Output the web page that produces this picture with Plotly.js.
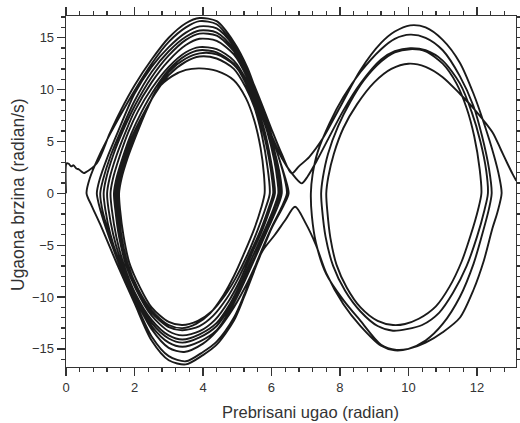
<!DOCTYPE html>
<html>
<head>
<meta charset="utf-8">
<script src="https://cdn.plot.ly/plotly-3.0.1.min.js"></script>
<style>html,body{margin:0;padding:0;background:#fff;}#chart{width:520px;height:423px;}</style>
</head>
<body>
<div id="chart"></div>
<script>
// Axis labels
const xTitle = "Prebrisani ugao (radian)";
const yTitle = "Ugaona brzina (radian/s)";

// Trajectory segments (angle in radian, speed in radian/s)
const startX = [0, 0.02, 0.08, 0.15, 0.22, 0.3, 0.38, 0.45, 0.52, 0.56];
const startY = [0, 2.9, 2.85, 2.6, 2.7, 2.4, 2.3, 2.1, 1.95, 2.0];

const lTop1X = [0.56, 0.9, 1.28, 1.6, 2.0, 2.5, 3.0, 3.5, 3.9, 4.4, 4.9, 5.3, 5.6, 5.9, 6.2, 6.4, 6.5];
const lTop1Y = [2.0, 2.9, 5.8, 8.0, 10.4, 12.9, 15.0, 16.4, 16.9, 16.6, 14.6, 12.1, 9.4, 6.6, 3.6, 1.5, 0];
const lBot1X = [6.5, 6.35, 6.0, 5.6, 5.2, 4.9, 4.4, 4.0, 3.5, 3.0, 2.5, 2.0, 1.5, 1.0, 0.75, 0.6];
const lBot1Y = [0, -1.2, -3.4, -6.6, -10.0, -12.3, -14.6, -15.6, -16.5, -16.1, -14.2, -10.6, -6.9, -3.0, -1.2, 0];
const lTop2X = [0.6, 0.7, 0.95, 1.3, 1.6, 2.0, 2.5, 3.0, 3.5, 3.9, 4.4, 4.9, 5.3, 5.6, 5.9, 6.2, 6.38, 6.45];
const lTop2Y = [0, 1.5, 3.5, 5.8, 7.6, 9.9, 12.5, 14.6, 16.0, 16.6, 16.3, 14.3, 11.9, 9.3, 6.6, 3.6, 1.5, 0];
const lBot2X = [6.45, 6.3, 6.0, 5.6, 5.2, 4.9, 4.4, 4.0, 3.5, 3.0, 2.5, 2.0, 1.5, 1.15, 0.97, 0.9];
const lBot2Y = [0, -1.3, -3.3, -6.4, -9.8, -12.0, -14.3, -15.3, -16.2, -15.7, -13.8, -10.3, -6.4, -3.2, -1.2, 0];
const lTop3X = [0.9, 0.98, 1.2, 1.5, 2.0, 2.5, 3.0, 3.5, 3.9, 4.4, 4.9, 5.3, 5.67, 6.0, 6.3, 6.59];
const lTop3Y = [0, 1.3, 3.4, 5.8, 9.6, 12.2, 14.1, 15.5, 16.1, 15.9, 14.2, 11.9, 9.0, 6.2, 3.8, 1.92];

const rTop1X = [6.59, 6.8, 7.1, 7.5, 8.0, 8.6, 9.2, 9.6, 10.05, 10.5, 11.0, 11.5, 11.9, 12.2, 12.5, 12.65, 12.72];
const rTop1Y = [1.92, 2.6, 3.5, 5.3, 8.3, 11.9, 14.5, 15.6, 16.2, 16.0, 14.8, 12.6, 9.6, 6.8, 3.6, 1.6, 0];
const rBot1X = [12.72, 12.6, 12.45, 12.2, 11.9, 11.5, 11.0, 10.5, 10.0, 9.65, 9.2, 8.6, 8.1, 7.6, 7.3, 7.18, 7.15];
const rBot1Y = [0, -1.8, -3.4, -6.5, -9.3, -12.0, -13.4, -14.4, -15.0, -15.1, -14.6, -12.3, -10.3, -7.8, -4.8, -2.2, 0];
const rTop2X = [7.15, 7.2, 7.35, 7.7, 8.1, 8.6, 9.2, 9.6, 10.05, 10.5, 11.0, 11.5, 11.9, 12.15, 12.35, 12.43];
const rTop2Y = [0, 1.8, 4.0, 6.8, 9.3, 11.7, 13.9, 14.9, 15.3, 15.0, 13.8, 11.3, 8.4, 5.5, 2.4, 0];
const rBot2X = [12.43, 12.35, 12.15, 11.9, 11.5, 11.0, 10.5, 10.0, 9.6, 9.2, 8.6, 8.1, 7.6, 7.3, 7.0, 6.69];
const rBot2Y = [0, -1.5, -4.0, -6.8, -10.0, -12.6, -14.2, -15.0, -15.15, -14.7, -12.8, -10.7, -7.7, -5.0, -2.9, -1.3];

const lBot3X = [6.69, 6.4, 6.1, 5.75, 5.3, 4.9, 4.4, 4.0, 3.45, 3.0, 2.5, 2.0, 1.5, 1.2, 1.05, 1.0];
const lBot3Y = [-1.3, -2.6, -4.0, -5.5, -8.6, -11.0, -13.3, -14.5, -15.3, -14.9, -13.1, -10.0, -6.2, -3.3, -1.4, 0];
const lTop4X = [1.0, 1.08, 1.3, 1.6, 2.0, 2.5, 3.0, 3.5, 3.9, 4.4, 4.9, 5.3, 5.6, 5.9, 6.15, 6.27, 6.3];
const lTop4Y = [0, 1.3, 3.6, 6.0, 8.9, 11.7, 13.7, 15.1, 15.7, 15.5, 13.9, 11.5, 9.0, 6.3, 3.3, 1.3, 0];
const lBot4X = [6.3, 6.18, 5.9, 5.5, 5.1, 4.8, 4.4, 3.9, 3.4, 3.0, 2.5, 2.0, 1.6, 1.3, 1.15, 1.1];
const lBot4Y = [0, -1.3, -3.4, -6.4, -9.3, -11.2, -13.2, -14.3, -14.8, -14.4, -12.8, -10.0, -7.0, -4.0, -1.6, 0];
const lTop5X = [1.1, 1.17, 1.38, 1.7, 2.0, 2.5, 3.0, 3.5, 3.9, 4.4, 4.9, 5.3, 5.6, 5.9, 6.12, 6.22, 6.25];
const lTop5Y = [0, 1.4, 3.7, 6.3, 8.4, 11.2, 13.3, 14.8, 15.4, 15.2, 13.7, 11.3, 8.8, 6.0, 3.2, 1.3, 0];
const lBot5X = [6.25, 6.12, 5.85, 5.5, 5.1, 4.8, 4.4, 3.9, 3.4, 3.0, 2.5, 2.0, 1.65, 1.38, 1.24, 1.2];
const lBot5Y = [0, -1.3, -3.5, -6.2, -9.0, -10.9, -12.8, -13.9, -14.4, -14.0, -12.5, -9.7, -7.0, -4.0, -1.5, 0];
const lTop6X = [1.2, 1.27, 1.47, 1.75, 2.0, 2.5, 3.0, 3.5, 3.9, 4.4, 4.9, 5.3, 5.6, 5.88, 6.08, 6.17, 6.2];
const lTop6Y = [0, 1.4, 3.6, 6.0, 7.9, 10.7, 12.8, 14.3, 14.9, 14.7, 13.4, 11.1, 8.6, 5.9, 3.2, 1.3, 0];
const lBot6X = [6.2, 6.08, 5.82, 5.45, 5.1, 4.8, 4.4, 3.9, 3.4, 3.0, 2.5, 2.0, 1.7, 1.47, 1.34, 1.3];
const lBot6Y = [0, -1.3, -3.4, -6.1, -8.7, -10.6, -12.5, -13.6, -14.1, -13.7, -12.2, -9.5, -7.0, -4.2, -1.6, 0];
const lTop7X = [1.3, 1.37, 1.56, 1.82, 2.1, 2.5, 3.0, 3.5, 3.9, 4.4, 4.9, 5.3, 5.55, 5.8, 5.98, 6.07, 6.1];
const lTop7Y = [0, 1.4, 3.5, 5.9, 7.9, 10.1, 12.2, 13.6, 14.1, 13.9, 12.8, 10.7, 8.6, 6.0, 3.2, 1.3, 0];
const lBot7X = [6.1, 5.98, 5.75, 5.4, 5.05, 4.75, 4.35, 3.9, 3.4, 3.0, 2.5, 2.05, 1.75, 1.55, 1.44, 1.4];
const lBot7Y = [0, -1.3, -3.4, -6.0, -8.6, -10.4, -12.2, -13.3, -13.7, -13.3, -11.8, -9.3, -6.9, -4.2, -1.6, 0];
const lTop8X = [1.4, 1.47, 1.65, 1.9, 2.2, 2.6, 3.0, 3.5, 3.9, 4.4, 4.9, 5.25, 5.5, 5.75, 5.93, 6.02, 6.05];
const lTop8Y = [0, 1.4, 3.4, 5.7, 7.8, 10.1, 11.9, 13.3, 13.8, 13.6, 12.5, 10.6, 8.6, 6.0, 3.3, 1.3, 0];
const lBot8X = [6.05, 5.93, 5.7, 5.35, 5.0, 4.7, 4.3, 3.9, 3.4, 3.0, 2.5, 2.1, 1.8, 1.6, 1.49, 1.45];
const lBot8Y = [0, -1.3, -3.4, -6.0, -8.4, -10.1, -11.8, -12.8, -13.2, -12.9, -11.5, -9.3, -7.0, -4.3, -1.7, 0];
const lTop9X = [1.45, 1.52, 1.7, 1.95, 2.25, 2.6, 3.0, 3.5, 3.9, 4.4, 4.9, 5.25, 5.5, 5.72, 5.88, 5.95];
const lTop9Y = [0, 1.4, 3.4, 5.6, 7.6, 9.6, 11.4, 12.7, 13.2, 13.0, 12.0, 10.2, 8.3, 5.6, 2.6, 0];
const lBot9X = [5.95, 5.84, 5.6, 5.3, 4.95, 4.65, 4.25, 3.85, 3.4, 3.0, 2.5, 2.15, 1.85, 1.68, 1.58, 1.55];
const lBot9Y = [0, -1.3, -3.5, -5.9, -8.2, -9.8, -11.4, -12.3, -12.7, -12.4, -11.0, -9.0, -6.7, -4.1, -1.6, 0];
const lTop10X = [1.55, 1.62, 1.8, 2.05, 2.35, 2.65, 3.1, 3.5, 3.9, 4.4, 4.9, 5.25, 5.5, 5.68, 5.78, 5.8];
const lTop10Y = [0, 1.4, 3.4, 5.6, 8.0, 10.0, 11.3, 11.9, 12.05, 11.8, 10.9, 9.2, 7.0, 4.4, 1.8, 0];
const lBot10X = [5.8, 5.7, 5.5, 5.2, 4.9, 4.6, 4.2, 3.8, 3.4, 3.0, 2.5, 2.1, 1.8, 1.62, 1.53, 1.5];
const lBot10Y = [0, -1.4, -3.4, -5.8, -8.0, -9.8, -11.6, -12.6, -13.0, -12.7, -11.3, -9.2, -6.8, -4.1, -1.6, 0];
const lTop11X = [1.5, 1.57, 1.75, 2.0, 2.3, 2.6, 3.0, 3.5, 3.9, 4.4, 4.9, 5.3, 5.67, 6.0, 6.3, 6.6, 6.88];
const lTop11Y = [0, 1.4, 3.4, 5.6, 7.7, 9.7, 11.7, 13.0, 13.5, 13.4, 12.4, 10.6, 8.2, 5.6, 3.4, 1.9, 0.96];

const rTop3X = [6.88, 7.05, 7.3, 7.65, 8.1, 8.6, 9.2, 9.6, 10.05, 10.5, 11.0, 11.5, 11.85, 12.1, 12.27, 12.32];
const rTop3Y = [0.96, 1.6, 3.0, 5.2, 8.0, 10.6, 12.9, 13.7, 14.0, 13.8, 12.8, 10.6, 7.8, 5.0, 2.2, 0];
const rBot3X = [12.32, 12.22, 12.0, 11.7, 11.3, 10.9, 10.4, 9.95, 9.55, 9.1, 8.6, 8.15, 7.8, 7.58, 7.48, 7.45];
const rBot3Y = [0, -1.6, -4.2, -7.0, -9.6, -11.5, -12.7, -13.1, -13.25, -12.8, -11.4, -9.4, -7.0, -4.2, -1.6, 0];
const rTop4X = [7.45, 7.5, 7.65, 7.95, 8.3, 8.7, 9.2, 9.6, 10.05, 10.5, 11.0, 11.4, 11.7, 11.92, 12.08, 12.13];
const rTop4Y = [0, 1.5, 3.8, 6.5, 8.8, 10.9, 12.7, 13.6, 13.9, 13.7, 12.5, 10.6, 8.2, 5.5, 2.3, 0];
const rBot4X = [12.13, 12.03, 11.82, 11.55, 11.2, 10.8, 10.3, 9.9, 9.55, 9.1, 8.6, 8.2, 7.9, 7.72, 7.63, 7.6];
const rBot4Y = [0, -1.6, -4.0, -6.6, -9.0, -10.9, -12.1, -12.6, -12.7, -12.3, -11.0, -9.1, -6.9, -4.3, -1.7, 0];
const rTop5X = [7.6, 7.66, 7.82, 8.1, 8.5, 9.0, 9.5, 10.0, 10.5, 11.0, 11.5, 11.9, 12.2, 12.47, 12.7, 12.9, 13.05, 13.15];
const rTop5Y = [0, 1.6, 3.8, 6.3, 8.6, 10.7, 12.0, 12.5, 12.2, 11.2, 9.6, 8.2, 7.0, 5.8, 4.2, 2.8, 1.8, 1.2];

const segmentsX = [startX, lTop1X, lBot1X, lTop2X, lBot2X, lTop3X, rTop1X, rBot1X, rTop2X, rBot2X,
  lBot3X, lTop4X, lBot4X, lTop5X, lBot5X, lTop6X, lBot6X, lTop7X, lBot7X, lTop8X, lBot8X,
  lTop9X, lBot9X, lTop10X, lBot10X, lTop11X, rTop3X, rBot3X, rTop4X, rBot4X, rTop5X];
const segmentsY = [startY, lTop1Y, lBot1Y, lTop2Y, lBot2Y, lTop3Y, rTop1Y, rBot1Y, rTop2Y, rBot2Y,
  lBot3Y, lTop4Y, lBot4Y, lTop5Y, lBot5Y, lTop6Y, lBot6Y, lTop7Y, lBot7Y, lTop8Y, lBot8Y,
  lTop9Y, lBot9Y, lTop10Y, lBot10Y, lTop11Y, rTop3Y, rBot3Y, rTop4Y, rBot4Y, rTop5Y];

const pathX = [], pathY = [];
segmentsX.forEach((sx, i) => {
  const sy = segmentsY[i];
  const from = i === 0 ? 0 : 1;
  for (let k = from; k < sx.length; k++) { pathX.push(sx[k]); pathY.push(sy[k]); }
});

const trace = {
  x: pathX, y: pathY, type: 'scatter', mode: 'lines',
  line: {color: '#1a1a1a', width: 1.9, shape: 'spline', smoothing: 0.8},
  hoverinfo: 'skip', showlegend: false
};

const fontFam = 'Liberation Sans, Arial, sans-serif';
const axisCommon = {
  showgrid: false, zeroline: false, showline: true, linecolor: '#333', linewidth: 1.3,
  mirror: 'ticks', ticks: 'outside', tickcolor: '#333', tickwidth: 1.3, ticklen: 8,
  tickfont: {family: fontFam, size: 13, color: '#333'}
};

const layout = {
  width: 520, height: 423,
  margin: {l: 66, r: 4, t: 16, b: 56},
  paper_bgcolor: '#fff', plot_bgcolor: '#fff',
  font: {family: fontFam, color: '#333'},
  xaxis: Object.assign({}, axisCommon, {
    range: [0, 13.14], tick0: 0, dtick: 2,
    minor: {dtick: 0.4, ticklen: 4, tickcolor: '#333', tickwidth: 1.3, ticks: 'outside', showgrid: false}
  }),
  yaxis: Object.assign({}, axisCommon, {
    range: [-16.75, 17.1], tick0: 0, dtick: 5,
    minor: {dtick: 1, ticklen: 4, tickcolor: '#333', tickwidth: 1.3, ticks: 'outside', showgrid: false}
  }),
  annotations: [
    {text: xTitle, xref: 'paper', yref: 'paper', x: 0.544, y: 0, yshift: -45,
     xanchor: 'center', yanchor: 'middle', showarrow: false,
     font: {family: fontFam, size: 16.5, color: '#333'}},
    {text: yTitle, xref: 'paper', yref: 'paper', x: 0, xshift: -48, y: 0.49,
     xanchor: 'center', yanchor: 'middle', textangle: -90, showarrow: false,
     font: {family: fontFam, size: 17.5, color: '#333'}}
  ]
};

Plotly.newPlot('chart', [trace], layout, {staticPlot: true, displayModeBar: false});
</script>
</body>
</html>
